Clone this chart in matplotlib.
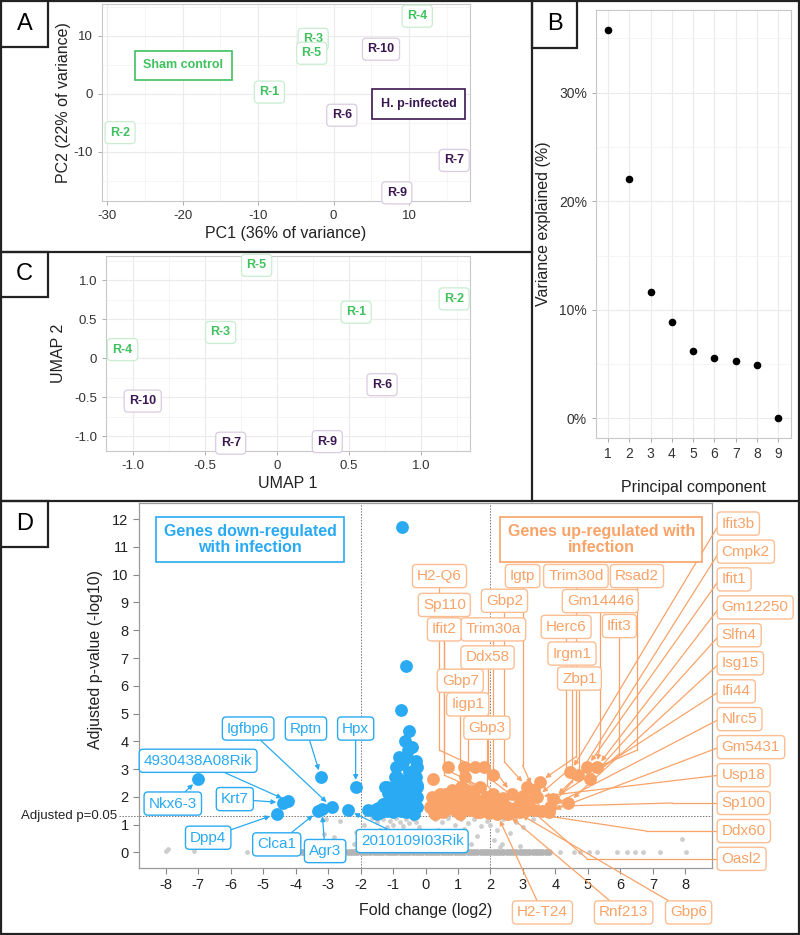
import numpy as np
import matplotlib.pyplot as plt
from matplotlib.patches import Rectangle
from matplotlib.lines import Line2D

plt.rcParams['font.family'] = ['Liberation Sans', 'DejaVu Sans']
plt.rcParams['axes.unicode_minus'] = False

W, H = 800, 935

# ---------------- data ----------------
samples = ['R-1', 'R-2', 'R-3', 'R-4', 'R-5', 'R-6', 'R-7', 'R-9', 'R-10']
infected = [False, False, False, False, False, True, True, True, True]
pc1 = [-8.5, -28.3, -2.7, 11.1, -2.9, 1.1, 16.0, 8.4, 6.3]
pc2 = [0.3, -6.7, 9.4, 13.4, 7.0, -3.7, -11.5, -17.1, 7.7]
umap1 = [0.55, 1.23, -0.39, -1.07, -0.14, 0.73, -0.32, 0.35, -0.93]
umap2 = [0.59, 0.76, 0.33, 0.11, 1.19, -0.34, -1.09, -1.07, -0.55]

pc_number = [1, 2, 3, 4, 5, 6, 7, 8, 9]
pc_variance = [35.8, 22.0, 11.6, 8.9, 6.2, 5.6, 5.3, 4.9, 0.0]

# volcano: genes sitting at p-adj ~ 1 (the grey bar along zero)
band_fc = [-3.8, -3.6, -3.4, -3.2, -3.0, -2.8, -2.6, -2.4, -2.2, -2.0, -1.8, -1.6, -1.4,
           -1.2, -1.0, -0.8, -0.6, -0.4, -0.2, 0.0, 0.2, 0.4, 0.6, 0.8, 1.0, 1.2, 1.4,
           1.6, 1.8, 2.0, 2.2, 2.4, 2.6, 2.8, 3.0, 3.2, 3.4, 3.6, 3.8,
           -3.7, -3.5, -3.3, -3.1, -2.9, -2.7, -2.5, -2.3, -2.1, -1.9, -1.7, -1.5, -1.3,
           -1.1, -0.9, -0.7, -0.5, -0.3, -0.1, 0.1, 0.3, 0.5, 0.7, 0.9, 1.1, 1.3, 1.5,
           1.7, 1.9, 2.1, 2.3, 2.5, 2.7, 2.9, 3.1, 3.3, 3.5, 3.7]
band_p = [0.0] * 77

# volcano: other not significant genes
ns_fc = [-8.0, -7.94, -7.12, -5.49, -3.14, -2.81, -2.63, -2.15, -2.19, -3.05,
         -1.5, -1.3, -1.2, -1.1, -1.0, -0.9, -0.8, -0.7, -0.6, -0.5, -0.4, -0.3,
         -1.4, -0.95, -0.65, -1.7, -1.9, -1.65, -0.2, -1.2, -0.85, -0.45,
         0.3, 0.5, 0.7, 0.9, 1.1, 1.3, 1.5, 1.7, 1.9, 0.4, 0.8, 1.2, 1.6, 2.0,
         2.2, 2.4, 2.6, 2.8, 3.0, 3.3, 0.6, 1.0, 1.4, 0.2, 2.1, 2.3, 2.35, 2.9,
         4.15, 4.56, 4.76, 5.02, 5.28, 5.89, 6.2, 6.46, 6.71, 7.21, 8.01, 7.9]
ns_p = [0.05, 0.14, 0.05, 0.02, 0.65, 0.56, 1.14, 0.72, 0.29, 1.2,
        1.1, 1.2, 0.9, 1.15, 1.0, 1.25, 1.1, 0.95, 1.2, 1.05, 1.2, 1.1,
        0.8, 0.7, 0.75, 0.6, 1.0, 1.25, 0.9, 0.5, 0.45, 0.6,
        1.2, 1.1, 1.25, 1.0, 1.2, 1.05, 1.2, 0.95, 1.15, 0.8, 0.7, 0.85, 0.6, 1.0,
        0.8, 1.2, 0.7, 1.1, 0.9, 1.2, 0.5, 0.4, 0.3, 0.6, 0.45, 0.2, 0.3, 0.25,
        0.02, 0.02, 0.02, 0.02, 0.02, 0.02, 0.02, 0.02, 0.02, 0.02, 0.02, 0.5]

# volcano: down-regulated genes
down_fc = [-7.0, -4.38, -4.22, -4.58, -3.3, -3.19, -2.89, -3.22, -2.15, -2.39, -1.78,
           -0.73, -0.61, -0.74, -0.5, -0.42, -0.58, -0.72, -0.29, -0.88, -0.27, -1.19,
           -1.29, -0.99, -1.6, -1.31, -1.37, -0.9, -0.94, -1.24, -0.83, -0.68, -0.27,
           -0.27, -1.09, -0.27, -0.5, -0.6, -0.45, -0.7, -0.55, -0.35, -0.8, -1.0,
           -0.6, -0.4, -0.3, -0.8, -1.1, -1.45, -0.95, -0.65, -0.35, -0.5, -1.2,
           -0.75, -0.9, -0.45, -0.3, -0.55, -0.62, -1.5, -1.05, -0.85, -0.25, -1.15,
           -0.95, -0.7, -0.4]
down_p = [2.63, 1.79, 1.85, 1.39, 1.49, 1.55, 1.64, 2.72, 2.36, 1.52, 1.52,
          11.72, 6.71, 5.12, 4.37, 3.8, 3.44, 3.2, 3.08, 2.72, 2.36, 2.36,
          1.76, 1.96, 1.52, 1.76, 1.46, 3.08, 2.72, 2.36, 3.44, 3.26, 3.08,
          2.42, 1.64, 1.64, 2.9, 2.6, 2.2, 2.0, 1.8, 1.9, 1.7, 1.45,
          1.45, 1.45, 2.7, 2.3, 2.0, 1.6, 2.4, 2.35, 1.4, 1.55, 1.5,
          1.5, 1.8, 2.55, 3.3, 3.7, 4.0, 1.4, 1.75, 2.1, 2.0, 2.15,
          1.55, 1.65, 1.7]

# volcano: up-regulated genes
up_fc = [0.68, 1.17, 1.51, 1.79, 2.09, 1.22, 0.24, 1.68, 1.27, 0.45, 0.81, 0.35,
         0.86, 1.17, 1.58, 1.89, 2.09, 2.3, 2.66, 2.92, 3.12, 3.33, 3.51, 3.33,
         3.43, 3.94, 3.84, 3.79, 4.4, 4.46, 4.71, 4.97, 5.28, 5.07, 2.61, 3.12,
         0.14, 0.45, 1.17, 0.66, 1.37, 1.68, 2.09, 2.5, 2.92, 2.2, 2.5, 2.8,
         0.3, 0.55, 0.95, 1.05, 1.4, 1.6, 1.95, 2.4, 2.75, 3.0, 0.2, 0.6, 1.0,
         1.3, 1.5, 1.85, 2.2, 2.55, 3.2, 0.9, 1.45, 2.0, 0.5, 0.75, 1.1, 1.75,
         0.25, 0.7, 1.25, 1.9, 2.35, 3.05, 3.6]
up_p = [3.08, 3.08, 3.08, 3.08, 2.78, 2.72, 2.66, 2.36, 2.24, 2.12, 2.24, 1.88,
        1.76, 1.64, 1.88, 1.76, 2.12, 1.88, 2.12, 1.82, 2.36, 2.24, 2.54, 1.52,
        2.0, 1.94, 1.64, 1.46, 1.79, 2.9, 2.78, 3.08, 3.08, 2.66, 1.52, 1.64,
        1.64, 1.52, 2.0, 1.88, 1.52, 1.46, 1.52, 1.64, 1.46, 1.38, 1.4, 1.45,
        1.4, 1.45, 1.5, 1.4, 1.75, 1.45, 1.42, 1.95, 1.6, 2.05, 2.0, 2.1, 2.0,
        1.9, 2.2, 2.0, 1.65, 1.4, 1.85, 1.6, 1.6, 1.7, 1.7, 1.95, 2.35, 1.55,
        1.45, 1.55, 1.8, 1.5, 1.55, 1.5, 1.5]

down_names = ['4930438A08Rik', 'Nkx6-3', 'Krt7', 'Igfbp6', 'Rptn', 'Hpx', 'Dpp4',
              'Clca1', 'Agr3', '2010109I03Rik']
down_points = [(-4.22, 1.85), (-7.0, 2.63), (-4.38, 1.79), (-2.89, 1.64), (-3.22, 2.72),
               (-2.15, 2.36), (-4.58, 1.39), (-3.3, 1.49), (-3.19, 1.55), (-2.39, 1.52)]

top_names = ['H2-Q6', 'Igtp', 'Trim30d', 'Rsad2', 'Sp110', 'Gbp2', 'Gm14446', 'Ifit2',
             'Trim30a', 'Herc6', 'Ifit3', 'Ddx58', 'Irgm1', 'Zbp1', 'Gbp7', 'Iigp1', 'Gbp3']
top_points = [(2.09, 2.78), (3.33, 2.24), (3.51, 2.54), (4.71, 2.78), (2.09, 2.12),
              (3.12, 2.36), (5.28, 3.08), (2.3, 1.88), (2.66, 2.12), (3.43, 2.0),
              (5.07, 2.66), (2.92, 1.82), (3.84, 1.64), (3.94, 1.94), (2.3, 1.88),
              (2.5, 1.64), (2.61, 1.52)]

right_names = ['Ifit3b', 'Cmpk2', 'Ifit1', 'Gm12250', 'Slfn4', 'Isg15', 'Ifi44', 'Nlrc5',
               'Gm5431', 'Usp18', 'Sp100', 'Ddx60', 'Oasl2']
right_points = [(4.46, 2.9), (4.71, 2.78), (4.97, 3.08), (5.28, 3.08), (5.07, 2.66),
                (4.4, 1.79), (3.94, 1.94), (3.84, 1.64), (3.79, 1.46), (3.43, 2.0),
                (3.12, 1.64), (2.92, 1.46), (2.66, 2.12)]

bottom_names = ['H2-T24', 'Rnf213', 'Gbp6']
bottom_points = [(2.2, 1.38), (2.5, 1.4), (2.8, 1.45)]

# ---------------- layout helpers ----------------
GREEN = '#3FC15E'
GREEN_EDGE = '#C9EDD1'
PURPLE = '#3B1751'
PURPLE_EDGE = '#D8CCE0'
BLUE = '#29AAF2'
ORANGE = '#F9A368'
ORANGE_EDGE = '#FBBE92'
GRID = '#EBEBEB'


def rect(l, t, r, b):
    return [l / W, 1 - b / H, (r - l) / W, (b - t) / H]


def fx(px):
    return px / W


def fy(py):
    return 1 - py / H


fig = plt.figure(figsize=(8, 9.35), dpi=100)


def style_light(ax):
    for s in ax.spines.values():
        s.set_color('#C8C8C8')
        s.set_linewidth(0.8)
    ax.tick_params(colors='#333333', labelsize=9.5, length=3, width=0.7)
    ax.tick_params(axis='both', color='#AAAAAA')
    ax.grid(True, which='major', color=GRID, lw=0.8)
    ax.grid(True, which='minor', color='#F4F4F4', lw=0.6)
    ax.set_axisbelow(True)


def sample_labels(ax, xs, ys):
    for name, x, y, inf in zip(samples, xs, ys, infected):
        col = PURPLE if inf else GREEN
        ec = PURPLE_EDGE if inf else GREEN_EDGE
        ax.text(x, y, name, color=col, fontsize=9, fontweight='bold', ha='center',
                va='center', clip_on=False,
                bbox=dict(boxstyle='round,pad=0.4,rounding_size=0.3', fc='white', ec=ec, lw=0.9))


# ---------------- panel A: PCA ----------------
axA = fig.add_axes(rect(102, 4, 470, 201))
axA.set_xlim(-30.7, 18.1)
axA.set_ylim(-18.5, 15.5)
axA.set_xticks([-30, -20, -10, 0, 10])
axA.set_xticks([-25, -15, -5, 5, 15], minor=True)
axA.set_yticks([-10, 0, 10])
axA.set_yticks([-15, -5, 5, 15], minor=True)
axA.tick_params(which='minor', length=0)
style_light(axA)
sample_labels(axA, pc1, pc2)
axA.text(-19.9, 4.9, 'Sham control', color=GREEN, fontsize=9, fontweight='bold', ha='center',
         va='center', bbox=dict(boxstyle='square,pad=0.7', fc='white', ec=GREEN, lw=1.2))
axA.text(11.3, -1.8, 'H. p-infected', color=PURPLE, fontsize=9, fontweight='bold', ha='center',
         va='center', bbox=dict(boxstyle='square,pad=0.7', fc='white', ec=PURPLE, lw=1.2))
axA.set_xlabel('PC1 (36% of variance)', fontsize=11.5, color='#222222', labelpad=3)
axA.set_ylabel('PC2 (22% of variance)', fontsize=11.5, color='#222222', labelpad=2)

# ---------------- panel C: UMAP ----------------
axC = fig.add_axes(rect(106, 256, 470, 451))
axC.set_xlim(-1.185, 1.34)
axC.set_ylim(-1.19, 1.31)
axC.set_xticks([-1.0, -0.5, 0, 0.5, 1.0])
axC.set_xticklabels(['-1.0', '-0.5', '0', '0.5', '1.0'])
axC.set_xticks([-0.75, -0.25, 0.25, 0.75, 1.25], minor=True)
axC.set_yticks([-1.0, -0.5, 0, 0.5, 1.0])
axC.set_yticklabels(['-1.0', '-0.5', '0', '0.5', '1.0'])
axC.set_yticks([-0.75, -0.25, 0.25, 0.75, 1.25], minor=True)
axC.tick_params(which='minor', length=0)
style_light(axC)
sample_labels(axC, umap1, umap2)
axC.set_xlabel('UMAP 1', fontsize=11.5, color='#222222', labelpad=3)
axC.set_ylabel('UMAP 2', fontsize=11.5, color='#222222', labelpad=6)

# ---------------- panel B: scree ----------------
axB = fig.add_axes(rect(596, 10, 791, 438))
axB.scatter(pc_number, pc_variance, s=20, color='black', zorder=3)
axB.set_xlim(0.43, 9.6)
axB.set_ylim(-1.8, 37.6)
axB.set_xticks(pc_number)
axB.set_yticks([0, 10, 20, 30])
axB.set_yticklabels(['0%', '10%', '20%', '30%'])
axB.set_yticks([5, 15, 25, 35], minor=True)
axB.tick_params(which='minor', length=0)
style_light(axB)
axB.tick_params(labelsize=10)
axB.set_xlabel('Principal component', fontsize=11.5, color='#222222', labelpad=14)
axB.set_ylabel('Variance explained (%)', fontsize=11.5, color='#222222', labelpad=6)

# ---------------- panel D: volcano ----------------
axD = fig.add_axes(rect(139, 503, 712, 868))
axD.set_xlim(-8.82, 8.82)
axD.set_ylim(-0.56, 12.58)
for s in axD.spines.values():
    s.set_color('#9A9A9A')
    s.set_linewidth(0.9)
axD.tick_params(colors='#222222', labelsize=10.5, length=4, width=0.8)
axD.tick_params(axis='both', color='#888888')
axD.set_xticks(range(-8, 9))
axD.set_yticks(range(0, 13))

axD.scatter(band_fc, band_p, s=24, color='#B4B4B4', lw=0, zorder=2)
axD.scatter(ns_fc, ns_p, s=12, color='#CDCDCD', lw=0, zorder=2)
axD.scatter(down_fc, down_p, s=85, color=BLUE, lw=0, zorder=3)
axD.scatter(up_fc, up_p, s=85, color=ORANGE, lw=0, zorder=3)

axD.axvline(-2, color='#777777', lw=0.7, ls=(0, (1.5, 1.5)), zorder=1)
axD.axvline(2, color='#777777', lw=0.7, ls=(0, (1.5, 1.5)), zorder=1)
axD.plot([-9.45, 8.82], [1.3, 1.3], color='#777777', lw=0.7, ls=(0, (1.5, 1.5)),
         clip_on=False, zorder=1)
axD.text(-9.5, 1.3, 'Adjusted p=0.05', fontsize=9.5, ha='right', va='center', color='#222222')

axD.set_xlabel('Fold change (log2)', fontsize=11.5, color='#222222')
axD.xaxis.set_label_coords(0.5, -0.095)
axD.set_ylabel('Adjusted p-value (-log10)', fontsize=11.5, color='#222222')
axD.yaxis.set_label_coords(-0.063, 0.57)

axD.text(-5.4, 11.26, 'Genes down-regulated\nwith infection', color=BLUE, fontsize=11.5,
         fontweight='bold', ha='center', va='center', linespacing=1.05,
         bbox=dict(boxstyle='square,pad=0.45', fc='white', ec=BLUE, lw=1.2), zorder=6)
axD.text(5.41, 11.26, 'Genes up-regulated with\ninfection', color=ORANGE, fontsize=11.5,
         fontweight='bold', ha='center', va='center', linespacing=1.05,
         bbox=dict(boxstyle='square,pad=0.45', fc='white', ec=ORANGE, lw=1.2), zorder=6)


def gene_box(ec):
    return dict(boxstyle='round,pad=0.3,rounding_size=0.25', fc='white', ec=ec, lw=1.0)


arrow_kw = dict(arrowstyle='-|>', lw=0.9, shrinkA=0, shrinkB=5, mutation_scale=7)
GENE_FS = 11

# blue labels
down_pos = [(-7.0, 3.3), (-7.78, 1.76), (-5.87, 1.92), (-5.46, 4.46), (-3.68, 4.46),
            (-2.15, 4.46), (-6.69, 0.53), (-4.58, 0.29), (-3.09, 0.05), (-0.41, 0.41)]
for name, pt, pos in zip(down_names, down_points, down_pos):
    axD.annotate(name, xy=pt, xytext=pos, color=BLUE, fontsize=GENE_FS, ha='center',
                 va='center', bbox=gene_box(BLUE), zorder=6, annotation_clip=False,
                 arrowprops=dict(color=BLUE, **arrow_kw))

# orange labels above the cloud: drop vertically, then bend to the point
top_pos = [(0.43, 9.95), (2.99, 9.95), (4.63, 9.95), (6.51, 9.95), (0.58, 8.91),
           (2.43, 9.06), (5.38, 9.05), (0.58, 8.03), (2.09, 8.03), (4.33, 8.12),
           (5.97, 8.15), (1.91, 7.02), (4.51, 7.16), (4.74, 6.26), (1.07, 6.18),
           (1.3, 5.33), (1.89, 4.49)]
for name, pt, pos in zip(top_names, top_points, top_pos):
    knee = (pos[0], pt[1] + 0.9)
    axD.plot([pos[0], knee[0]], [pos[1], knee[1]], color=ORANGE, lw=0.9, zorder=4)
    axD.annotate('', xy=pt, xytext=knee, zorder=4,
                 arrowprops=dict(color=ORANGE, **arrow_kw))
    axD.text(pos[0], pos[1], name, color=ORANGE, fontsize=GENE_FS, ha='center', va='center',
             bbox=gene_box(ORANGE_EDGE), zorder=6)

# orange labels stacked on the right
right_y = [11.84, 10.83, 9.83, 8.82, 7.82, 6.81, 5.80, 4.80, 3.79, 2.78, 1.78, 0.77, -0.23]
right_knee = [None, None, None, None, None, None, None, None, None, None, 7.6, 6.8, 4.98]
for name, pt, y, kx in zip(right_names, right_points, right_y, right_knee):
    start = (9.05, y)
    if kx is not None:
        axD.plot([9.05, kx], [y, y], color=ORANGE, lw=0.9, zorder=4, clip_on=False)
        start = (kx, y)
    axD.annotate('', xy=pt, xytext=start, zorder=4, annotation_clip=False,
                 arrowprops=dict(color=ORANGE, **arrow_kw))
    axD.text(9.12, y, name, color=ORANGE, fontsize=GENE_FS, ha='left', va='center',
             bbox=gene_box(ORANGE_EDGE), zorder=6, clip_on=False)

# orange labels under the axis
bottom_pos = [(3.6, -2.16), (6.1, -2.16), (8.1, -2.16)]
for name, pt, pos in zip(bottom_names, bottom_points, bottom_pos):
    axD.annotate(name, xy=pt, xytext=pos, color=ORANGE, fontsize=GENE_FS, ha='center',
                 va='center', bbox=gene_box(ORANGE_EDGE), zorder=6, annotation_clip=False,
                 arrowprops=dict(color=ORANGE, **arrow_kw))

# ---------------- panel frames and letters ----------------
def fig_line(x0, y0, x1, y1, lw=1.6):
    fig.add_artist(Line2D([fx(x0), fx(x1)], [fy(y0), fy(y1)], color='#222222', lw=lw))


fig.add_artist(Rectangle((fx(1), fy(934)), fx(798), 933 / H, fill=False, ec='#222222', lw=1.6))
fig_line(532, 0, 532, 501)
fig_line(0, 252, 532, 252)
fig_line(0, 501, 800, 501)

for letter, (l, t, r, b) in zip('ABCD', [(1, 1, 48, 47), (532, 1, 577, 48),
                                           (1, 252, 48, 297), (1, 501, 48, 547)]):
    fig.add_artist(Rectangle((fx(l), fy(b)), fx(r - l), (b - t) / H, fill=True, fc='white',
                             ec='#222222', lw=1.6))
    fig.text(fx((l + r) / 2), fy((t + b) / 2), letter, fontsize=17, ha='center', va='center')

fig.savefig('out.png', dpi=100, facecolor='white')
